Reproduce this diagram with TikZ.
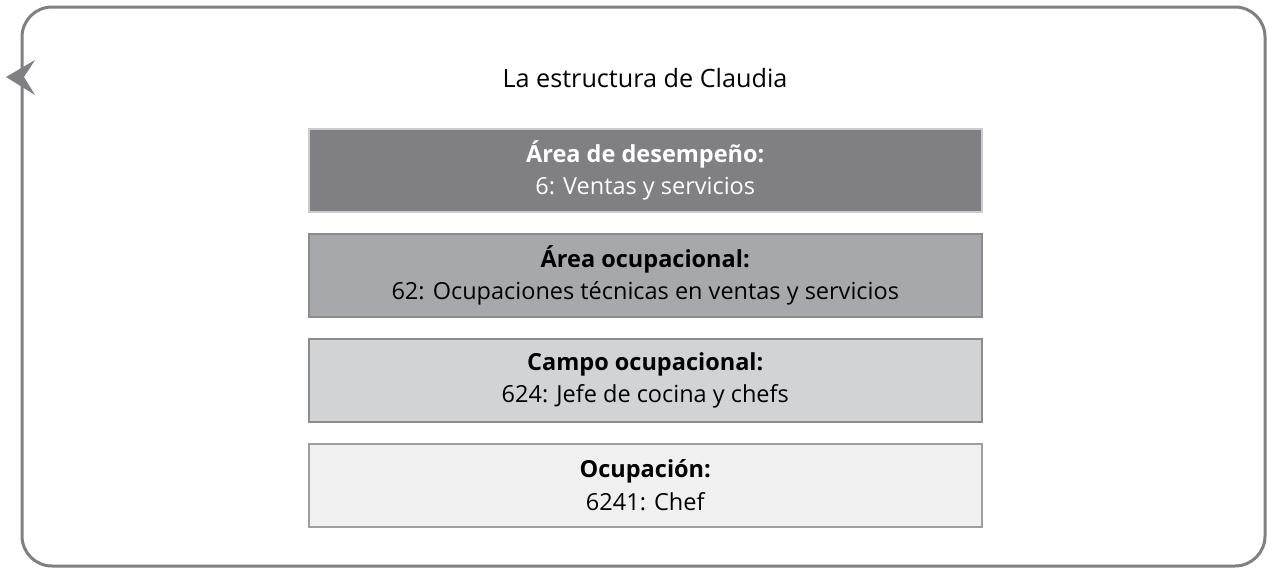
\documentclass[tikz,border=0pt]{standalone}
\usepackage{fontspec}
\setmainfont{Open Sans}
\begin{document}
\begin{tikzpicture}[x=1pt,y=-1pt,
  lvl/.style={minimum width=673pt,minimum height=83pt,anchor=north west,align=center,inner sep=0pt,font=\fontsize{23.5}{32.5}\selectfont,line width=1.5pt},
  framec/.style={draw=frameg,line width=3pt,rounded corners=30pt}]
\definecolor{frameg}{RGB}{128,128,132}
\definecolor{f1}{RGB}{128,128,132}
\definecolor{f2}{RGB}{167,168,171}
\definecolor{f3}{RGB}{210,211,213}
\definecolor{f4}{RGB}{240,240,240}
\useasboundingbox (0,0) rectangle (1269,571);
\draw[framec] (22,7) rectangle (1265,566);
\fill[frameg] (6,77) -- (35,60) -- (24,77) -- (35,95) -- cycle;
\node[font=\fontsize{25.2}{30}\selectfont] (title) at (645,78) {La estructura de Claudia};
\node[lvl,fill=f1,draw=white!80!black,text=white] (b1) at (308,128) {\textbf{Área de desempeño:}\\6: Ventas y servicios};
\node[lvl,fill=f2,draw=black!45] (b2) at (308,233) {\textbf{Área ocupacional:}\\62: Ocupaciones técnicas en ventas y servicios};
\node[lvl,fill=f3,draw=black!45] (b3) at (308,338) {\textbf{Campo ocupacional:}\\624: Jefe de cocina y chefs};
\node[lvl,fill=f4,draw=black!38] (b4) at (308,443) {\textbf{Ocupación:}\\6241: Chef};
\end{tikzpicture}
\end{document}
